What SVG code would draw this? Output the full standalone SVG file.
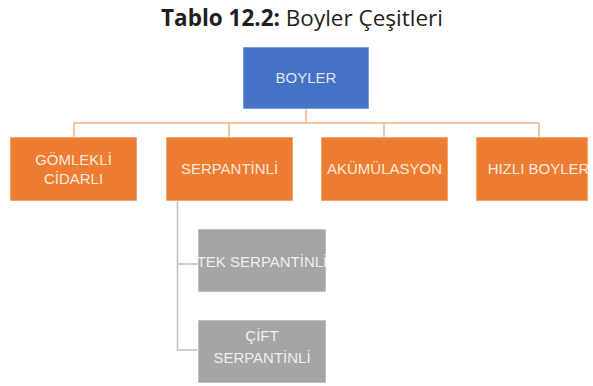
<svg xmlns="http://www.w3.org/2000/svg" width="593" height="386" viewBox="0 0 593 386">
<style>
.title{font-family:"Open Sans","Noto Sans",sans-serif;font-size:22.5px;fill:#231f20}
.lbl{font-family:"Liberation Sans",Arial,sans-serif;font-size:15px;text-anchor:middle;fill:#ffffff;fill-opacity:0.85}
.blue{fill:#4472C4;stroke:#ffffff;stroke-opacity:0.6;stroke-width:1}
.orange{fill:#ED7D31;stroke:#ffffff;stroke-opacity:0.6;stroke-width:1}
.gray{fill:#A5A5A5;stroke:#ffffff;stroke-opacity:0.6;stroke-width:1}
.oc{fill:none;stroke:#F4B183;stroke-width:1.5}
.gc{fill:none;stroke:#BFBFBF;stroke-width:1.5}
</style>
<rect width="593" height="386" fill="#ffffff"/>
<text class="title" x="302" y="26" text-anchor="middle"><tspan font-weight="bold">Tablo 12.2:</tspan> Boyler Çeşitleri</text>
<g id="connectors">
<path class="oc" d="M306 109V123M74 123H539M74 123V137M229 123V137M384 123V137M539 123V137"/>
<path class="gc" d="M177.5 201V350H198M177.5 264H198"/>
</g>
<g id="boyler">
<rect class="blue" x="243" y="47" width="126" height="62"/>
<text class="lbl" x="306" y="83" font-size="14">BOYLER</text>
</g>
<g id="gomlekli">
<rect class="orange" x="10" y="137" width="127" height="64"/>
<text class="lbl" x="73.5" y="165">GÖMLEKLİ</text>
<text class="lbl" x="73.5" y="184">CİDARLI</text>
</g>
<g id="serpantinli">
<rect class="orange" x="166" y="137" width="127" height="64"/>
<text class="lbl" x="229.5" y="174">SERPANTİNLİ</text>
</g>
<g id="akumulasyon">
<rect class="orange" x="321" y="137" width="127" height="64"/>
<text class="lbl" x="384.5" y="174">AKÜMÜLASYON</text>
</g>
<g id="hizli">
<rect class="orange" x="476" y="137" width="112" height="64"/>
<text class="lbl" x="538.5" y="174">HIZLI BOYLER</text>
</g>
<g id="tek">
<rect class="gray" x="198" y="229" width="128" height="63"/>
<text class="lbl" x="262" y="267" font-size="14.5">TEK SERPANTİNLİ</text>
</g>
<g id="cift">
<rect class="gray" x="198" y="320" width="128" height="63"/>
<text class="lbl" x="262" y="341">ÇİFT</text>
<text class="lbl" x="262" y="363">SERPANTİNLİ</text>
</g>
</svg>
